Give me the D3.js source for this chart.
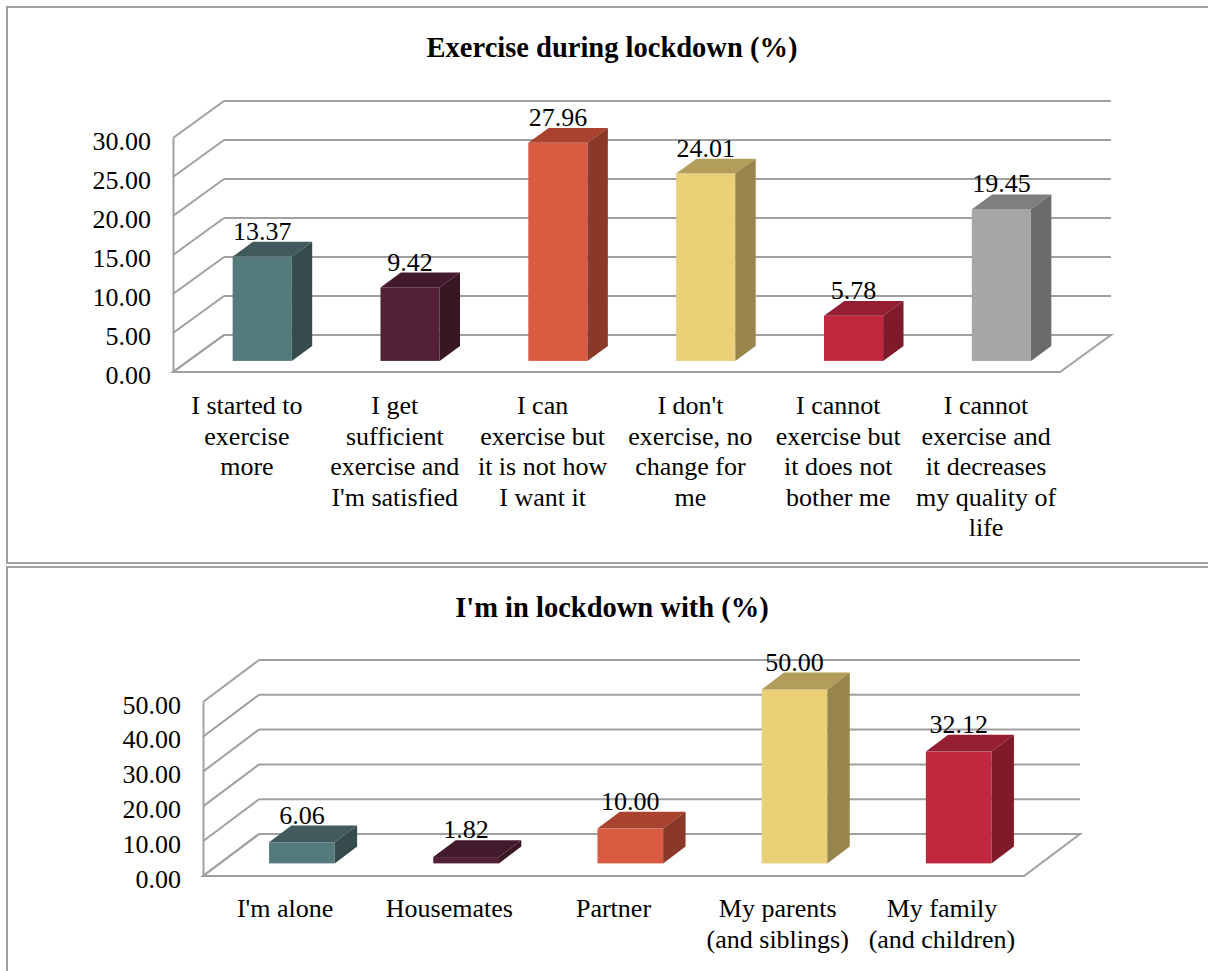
<!DOCTYPE html>
<html>
<head>
<meta charset="utf-8">
<script src="https://cdn.jsdelivr.net/npm/d3@7/dist/d3.min.js"></script>
<style>
  html, body { margin: 0; padding: 0; background: #ffffff; }
  svg { display: block; }
  svg text { font-family: "Liberation Serif", Tinos, "Times New Roman", Times, "DejaVu Serif", serif; fill: #000; }
</style>
</head>
<body>
<svg id="chart" width="1208" height="971"></svg>
<script>
// ---- Data ----
const exerciseTitle = "Exercise during lockdown (%)";
const exerciseCategories = [
  "I started to\nexercise\nmore",
  "I get\nsufficient\nexercise and\nI'm satisfied",
  "I can\nexercise but\nit is not how\nI want it",
  "I don't\nexercise, no\nchange for\nme",
  "I cannot\nexercise but\nit does not\nbother me",
  "I cannot\nexercise and\nit decreases\nmy quality of\nlife"
];
const exerciseValues = [13.37, 9.42, 27.96, 24.01, 5.78, 19.45];
const exerciseTicks = [0, 5, 10, 15, 20, 25, 30];

const companyTitle = "I'm in lockdown with (%)";
const companyCategories = [
  "I'm alone",
  "Housemates",
  "Partner",
  "My parents\n(and siblings)",
  "My family\n(and children)"
];
const companyValues = [6.06, 1.82, 10.00, 50.00, 32.12];
const companyTicks = [0, 10, 20, 30, 40, 50];

// Face colours per bar: front, top, side
const frontColors = ["#557A7B", "#532136", "#D95B41", "#EAD077", "#C1283F", "#A6A6A6"];
const topColors   = ["#415B5C", "#431A2B", "#A9432F", "#B39D5B", "#941F32", "#7F7F7F"];
const sideColors  = ["#354B4C", "#381624", "#8A3828", "#98854C", "#7E1A29", "#6B6B6B"];

// ---- Drawing ----
const FONT = '"Liberation Serif", Tinos, "Times New Roman", Times, "DejaVu Serif", serif';
const svg = d3.select("#chart");
const fmt = d3.format(".2f");
const lineColor = "#a0a0a0";

function drawPanel(g, cfg, title, categories, values, ticks) {
  // panel frame
  g.append("rect")
    .attr("x", cfg.box[0]).attr("y", cfg.box[1])
    .attr("width", cfg.box[2]).attr("height", cfg.box[3])
    .attr("fill", "#fff").attr("stroke", lineColor).attr("stroke-width", 2);

  g.append("text")
    .attr("x", cfg.titleX).attr("y", cfg.titleY)
    .attr("text-anchor", "middle")
    .style("font-family", FONT)
    .style("font-size", "28.5px").style("font-weight", "bold")
    .text(title);

  const x = d3.scaleBand().domain(categories).range([cfg.left, cfg.right]).padding(0);
  const y = d3.scaleLinear().domain([0, ticks[ticks.length - 1]]).range([cfg.floorY, cfg.floorY - cfg.plotH]);
  const dx = cfg.dx, dy = cfg.dy;
  const z0 = 0.3, z1 = 0.7;   // bar depth span within the floor
  const barFrac = 0.4;

  // back wall gridlines
  g.append("g").selectAll("line").data(ticks.filter(t => t > 0)).join("line")
    .attr("x1", cfg.left + dx).attr("x2", cfg.right + dx)
    .attr("y1", d => y(d) - dy).attr("y2", d => y(d) - dy)
    .attr("stroke", lineColor).attr("stroke-width", 2);

  // side wall: diagonals at each tick
  g.append("g").selectAll("line").data(ticks).join("line")
    .attr("x1", cfg.left).attr("x2", cfg.left + dx)
    .attr("y1", d => y(d)).attr("y2", d => y(d) - dy)
    .attr("stroke", lineColor).attr("stroke-width", 2);

  // floor
  const fy = y(0);
  g.append("path")
    .attr("d", `M${cfg.left},${fy} L${cfg.right},${fy} L${cfg.right + dx},${fy - dy} L${cfg.left + dx},${fy - dy} Z`)
    .attr("fill", "none").attr("stroke", lineColor).attr("stroke-width", 2);

  // vertical axis with tick labels
  const axis = d3.axisLeft(y).tickValues(ticks).tickFormat(fmt).tickSize(0).tickPadding(22);
  const ax = g.append("g").attr("transform", `translate(${cfg.left},0)`).call(axis)
    .attr("font-family", FONT).attr("font-size", 26);
  ax.select(".domain").attr("stroke", lineColor).attr("stroke-width", 2);
  ax.selectAll("text")
    .attr("dy", null).attr("y", 11)
    .style("font-size", "26px")
    .style("font-family", FONT);

  // bars
  const bw = x.bandwidth() * barFrac;
  const ddx = dx * (z1 - z0), ddy = dy * (z1 - z0);
  const bars = g.append("g").selectAll("g").data(categories).join("g");
  bars.each(function (c, i) {
    const v = values[i];
    const base = fy - dy * z0;
    const h = y(0) - y(v);
    const x0 = x(c) + (x.bandwidth() - bw) / 2 + dx * z0;
    const top = base - h;
    const b = d3.select(this);
    b.append("rect").attr("x", x0).attr("y", top).attr("width", bw).attr("height", h)
      .attr("fill", frontColors[i]);
    b.append("path")
      .attr("d", `M${x0},${top} L${x0 + bw},${top} L${x0 + bw + ddx},${top - ddy} L${x0 + ddx},${top - ddy} Z`)
      .attr("fill", topColors[i]);
    b.append("path")
      .attr("d", `M${x0 + bw},${top} L${x0 + bw + ddx},${top - ddy} L${x0 + bw + ddx},${base - ddy} L${x0 + bw},${base} Z`)
      .attr("fill", sideColors[i]);
    b.append("text")
      .attr("x", x0 + bw / 2).attr("y", top - ddy - 2)
      .attr("text-anchor", "middle")
      .style("font-family", FONT)
      .style("font-size", "26px")
      .text(fmt(v));
  });

  // category labels
  const labels = g.append("g").selectAll("text").data(categories).join("text")
    .attr("text-anchor", "middle")
    .attr("x", d => x(d) + x.bandwidth() / 2)
    .attr("y", cfg.labelY)
    .style("font-family", FONT)
    .style("font-size", "26px");
  labels.selectAll("tspan").data(d => d.split("\n")).join("tspan")
    .attr("x", function () { return d3.select(this.parentNode).attr("x"); })
    .attr("dy", (d, i) => i === 0 ? 0 : 30.5)
    .text(d => d);
}

drawPanel(svg.append("g"), {
  box: [7, 7, 1220, 556], titleX: 612, titleY: 57,
  left: 173, right: 1060, floorY: 372, plotH: 234, dx: 51, dy: 37, labelY: 414
}, exerciseTitle, exerciseCategories, exerciseValues, exerciseTicks);

drawPanel(svg.append("g"), {
  box: [7, 567, 1220, 420], titleX: 612, titleY: 617,
  left: 203, right: 1024, floorY: 876, plotH: 174, dx: 56, dy: 42, labelY: 917
}, companyTitle, companyCategories, companyValues, companyTicks);
</script>
</body>
</html>
